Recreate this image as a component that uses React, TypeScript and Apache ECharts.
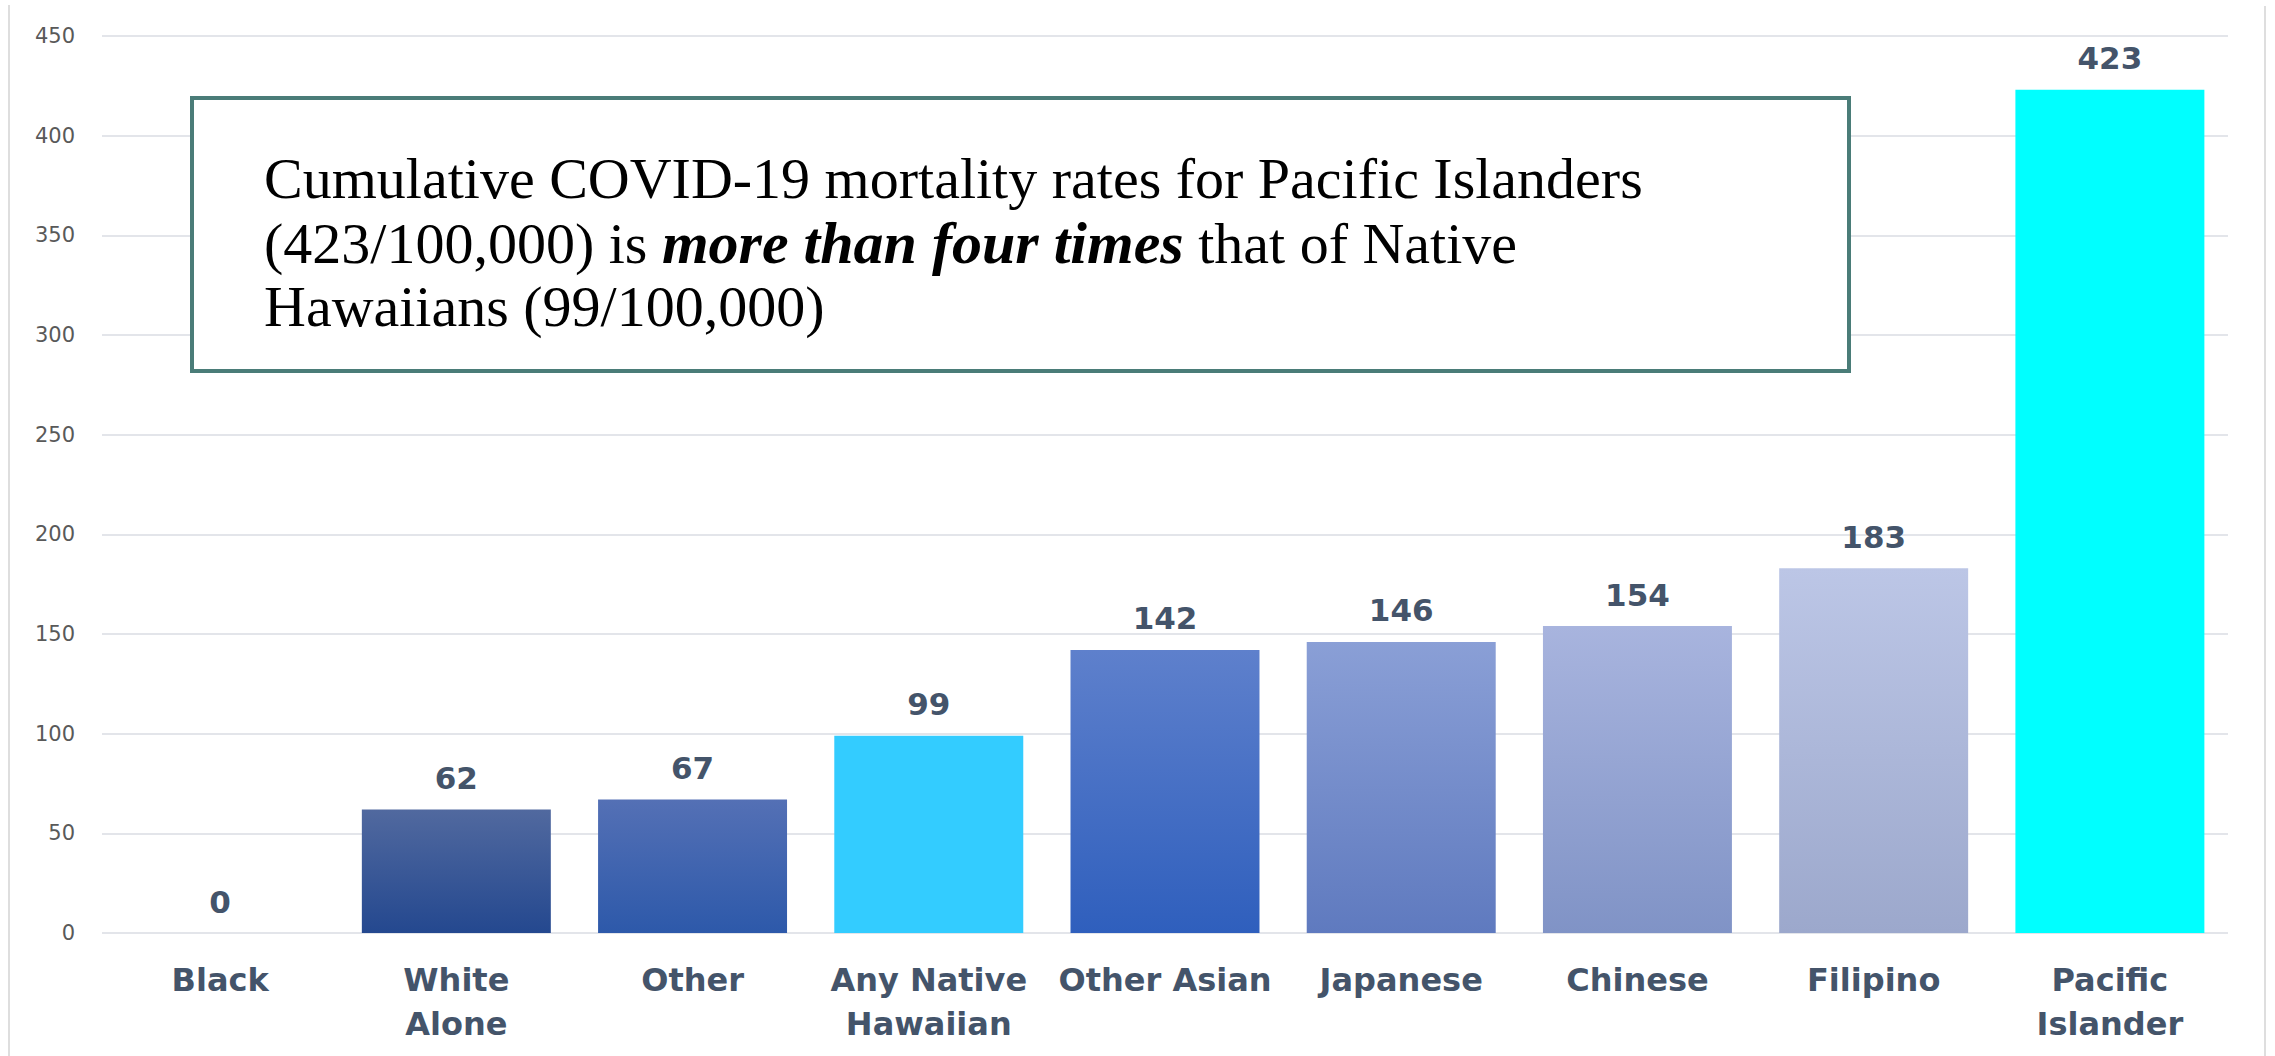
import React, { useEffect, useRef } from "react";
import * as echarts from "echarts";

const categories = [
  "Black",
  "White\nAlone",
  "Other",
  "Any Native\nHawaiian",
  "Other Asian",
  "Japanese",
  "Chinese",
  "Filipino",
  "Pacific\nIslander",
];
const values = [0, 62, 67, 99, 142, 146, 154, 183, 423];
const topColors = ["#4f68a3", "#51699f", "#5470b5", "#33ccff", "#5e80cc", "#8a9fd6", "#a8b4de", "#bcc6e6", "#00ffff"];
const bottomColors = ["#24488f", "#24488f", "#2d59aa", "#33ccff", "#2f5fbd", "#5f7abf", "#8093c6", "#9ca8cc", "#00ffff"];

const yMax = 450;
const yInterval = 50;

const boxLine1 = "Cumulative COVID-19 mortality rates for Pacific Islanders";
const boxLine2a = "(423/100,000) is ";
const boxLine2b = "more than four times";
const boxLine2c = " that of Native";
const boxLine3 = "Hawaiians (99/100,000)";

export default function App() {
  const ref = useRef<HTMLDivElement>(null);

  useEffect(() => {
    if (!ref.current) return;
    const chart = echarts.init(ref.current, undefined, { renderer: "svg" });
    const serif = "'Liberation Serif', 'Times New Roman', serif";
    const sans = "'DejaVu Sans', Verdana, sans-serif";
    const labelColor = "#44546a";

    const data = values.map((v, i) => ({
      value: v,
      itemStyle: {
        color: {
          type: "linear",
          x: 0,
          y: 0,
          x2: 0,
          y2: 1,
          colorStops: [
            { offset: 0, color: topColors[i] },
            { offset: 1, color: bottomColors[i] },
          ],
        },
      },
    }));

    chart.setOption({
      animation: false,
      backgroundColor: "#ffffff",
      grid: { left: 102, right: 47, top: 36, bottom: 123, containLabel: false },
      xAxis: {
        type: "category",
        data: categories,
        axisLine: { show: false },
        axisTick: { show: false },
        axisLabel: {
          interval: 0,
          margin: 25,
          fontFamily: sans,
          fontWeight: "bold",
          fontSize: 32,
          lineHeight: 44,
          color: labelColor,
        },
      },
      yAxis: {
        type: "value",
        min: 0,
        max: yMax,
        interval: yInterval,
        axisLine: { show: false },
        axisTick: { show: false },
        axisLabel: {
          margin: 27,
          fontFamily: sans,
          fontSize: 21,
          color: "#595959",
        },
        splitLine: { lineStyle: { color: "#e3e5ea", width: 2 } },
      },
      series: [
        {
          type: "bar",
          data,
          barCategoryGap: "20%",
          label: {
            show: true,
            position: "top",
            distance: 16,
            fontFamily: sans,
            fontWeight: "bold",
            fontSize: 31,
            color: labelColor,
          },
        },
      ],
      graphic: [
        {
          type: "line",
          z: 100,
          shape: { x1: 9, y1: 5, x2: 9, y2: 1056 },
          style: { stroke: "#dedede", lineWidth: 2 },
        },
        {
          type: "line",
          z: 100,
          shape: { x1: 2265, y1: 6, x2: 2265, y2: 1056 },
          style: { stroke: "#dedede", lineWidth: 2 },
        },
        {
          type: "rect",
          z: 100,
          shape: { x: 192, y: 98, width: 1657, height: 273 },
          style: { fill: "#ffffff", stroke: "#4a7c78", lineWidth: 4 },
        },
        {
          type: "text",
          z: 101,
          style: {
            x: 264,
            y: 178,
            text: boxLine1,
            font: `58px ${serif}`,
            fill: "#000000",
            align: "left",
            verticalAlign: "middle",
          },
        },
        {
          type: "text",
          z: 101,
          style: {
            x: 264,
            y: 243,
            text: `{n|${boxLine2a}}{b|${boxLine2b}}{n|${boxLine2c}}`,
            align: "left",
            verticalAlign: "middle",
            rich: {
              n: { fontFamily: serif, fontSize: 58, color: "#000000" },
              b: { fontFamily: serif, fontSize: 60, fontWeight: "bold", fontStyle: "italic", color: "#000000" },
            },
          },
        },
        {
          type: "text",
          z: 101,
          style: {
            x: 264,
            y: 306,
            text: boxLine3,
            font: `58px ${serif}`,
            fill: "#000000",
            align: "left",
            verticalAlign: "middle",
          },
        },
      ],
    });

    return () => chart.dispose();
  }, []);

  return (
    <div
      ref={ref}
      style={{ position: "absolute", left: 0, top: 0, width: 2275, height: 1056, background: "#ffffff" }}
    />
  );
}
